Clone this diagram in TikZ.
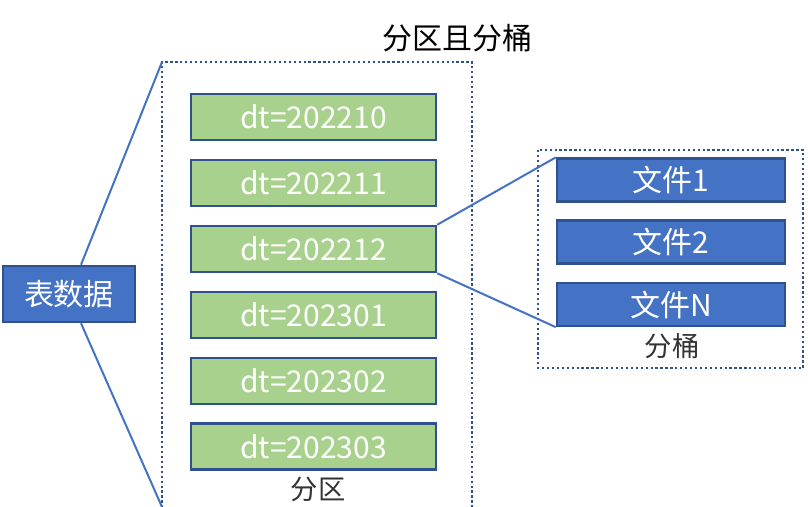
\documentclass[tikz,border=0pt]{standalone}
\usepackage{fontspec}
\setmainfont{Noto Sans CJK SC}
\definecolor{bblue}{HTML}{4472C4}
\definecolor{bedge}{HTML}{2F528F}
\definecolor{bgreen}{HTML}{A9D18E}
\begin{document}
\begin{tikzpicture}[x=0.75pt,y=-0.75pt,
  box/.style={draw=bedge,line width=1.9pt,inner sep=0pt,text=white,font=\fontsize{22.5}{26}\selectfont},
  bluebox/.style={box,fill=bblue},
  greenbox/.style={box,fill=bgreen,minimum width=183.75pt,minimum height=34.5pt},
  filebox/.style={bluebox,minimum width=171pt,minimum height=32pt},
  dotbox/.style={draw=bedge,dotted,line width=1.7pt},
  conn/.style={draw=bblue,line width=1.5pt},
  lbl/.style={text=black!80,font=\fontsize{20.5}{24}\selectfont,inner sep=0pt}]
\useasboundingbox (0,0) rectangle (808,507);
% partition dotted box
\draw[dotbox] (472,507.5) -- (472,62) -- (162,62) -- (162,507.5);
% bucket dotted box
\draw[dotbox] (538,150) rectangle (803,368);
% title
\node[inner sep=0pt,text=black,font=\fontsize{22.5}{26}\selectfont] (title) at (457,38) {分区且分桶};
% table data
\node[bluebox,minimum width=99pt,minimum height=42pt] (tbl) at (69,294) {表数据};
% partitions
\node[greenbox] (p1) at (313.5,117) {dt=202210};
\node[greenbox] (p2) at (313.5,183) {dt=202211};
\node[greenbox] (p3) at (313.5,249) {dt=202212};
\node[greenbox] (p4) at (313.5,315) {dt=202301};
\node[greenbox] (p5) at (313.5,381) {dt=202302};
\node[greenbox] (p6) at (313.5,446.5) {dt=202303};
\node[lbl] (plbl) at (318,489) {分区};
% files
\node[filebox] (f1) at (671,180) {文件1};
\node[filebox] (f2) at (671,242) {文件2};
\node[filebox] (fn) at (671,304.5) {文件N};
\node[lbl] (blbl) at (672,346) {分桶};
% connectors
\coordinate (ptop) at (162,62);
\coordinate (pbot) at (162,507);
\draw[conn] ([xshift=9pt]tbl.north) -- (ptop);
\draw[conn] ([xshift=9pt]tbl.south) -- (pbot);
\draw[conn] (p3.north east) -- (f1.north west);
\draw[conn] (p3.south east) -- (fn.south west);
\end{tikzpicture}
\end{document}
